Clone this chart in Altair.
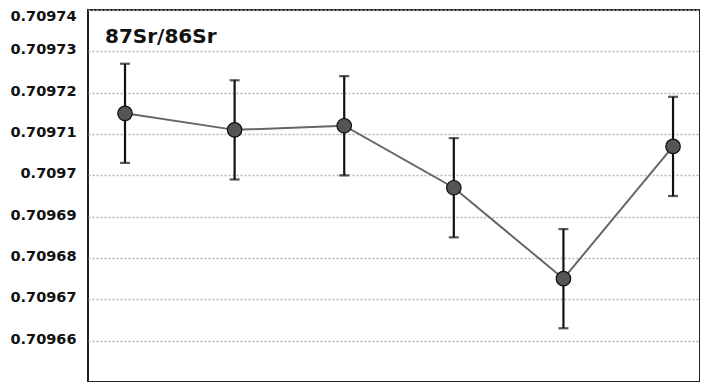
import altair as alt
import pandas as pd

samples = [1, 2, 3, 4, 5, 6]
ratio = [0.709715, 0.709711, 0.709712, 0.709697, 0.709675, 0.709707]
err = [0.000012, 0.000012, 0.000012, 0.000012, 0.000012, 0.000012]
y_ticks = [0.70966, 0.70967, 0.70968, 0.70969, 0.70970, 0.70971, 0.70972, 0.70973, 0.70974]
title_text = ["87Sr/86Sr"]

df = pd.DataFrame({"s": samples, "r": ratio, "e": err})
df["lo"] = df["r"] - df["e"]
df["hi"] = df["r"] + df["e"]

xs = alt.Scale(domain=[0.6624, 6.246], nice=False, zero=False)
ys = alt.Scale(domain=[0.70965, 0.70974], nice=False, zero=False)

x = alt.X("s:Q", scale=xs, axis=None)
yaxis = alt.Axis(values=y_ticks, format=".5~f", title=None, ticks=False, domain=False,
                 labelFont="DejaVu Sans", labelFontWeight="bold", labelFontSize=14.5,
                 labelColor="#111", labelPadding=12,
                 labelOffset=alt.condition("datum.value > 0.709735", alt.value(6), alt.value(-1.5)),
                 grid=True, gridColor="#b5b5b5", gridDash=[2, 2], gridWidth=1.5)

base = alt.Chart(df)

line = base.mark_line(color="#666666", strokeWidth=2).encode(
    x=x, y=alt.Y("r:Q", scale=ys, axis=yaxis))
rule = base.mark_rule(color="#111111", strokeWidth=2.2).encode(
    x=x, y=alt.Y("lo:Q", scale=ys), y2="hi:Q")
cap_lo = base.mark_tick(color="#111111", orient="horizontal", size=10, thickness=2.2).encode(
    x=x, y=alt.Y("lo:Q", scale=ys))
cap_hi = base.mark_tick(color="#111111", orient="horizontal", size=10, thickness=2.2).encode(
    x=x, y=alt.Y("hi:Q", scale=ys))
pts = base.mark_point(filled=True, fill="#555555", stroke="#111111", strokeWidth=1.2,
                      size=210, opacity=1, shape="circle").encode(
    x=x, y=alt.Y("r:Q", scale=ys))

title = alt.Chart(pd.DataFrame({"t": title_text})).mark_text(
    font="DejaVu Sans", fontSize=20, fontWeight="bold", color="#111",
    align="left", baseline="middle").encode(
    text="t:N", x=alt.value(17), y=alt.value(27))

chart = alt.layer(line, rule, cap_lo, cap_hi, pts, title).properties(
    width=612, height=372,
    autosize=alt.AutoSizeParams(type="none"),
    padding={"left": 80, "top": 2, "right": 0, "bottom": 0},
).configure(background="white").configure_view(stroke="#222222", strokeWidth=2)

chart.save("out.html", embed_options={"renderer": "svg", "actions": False})
